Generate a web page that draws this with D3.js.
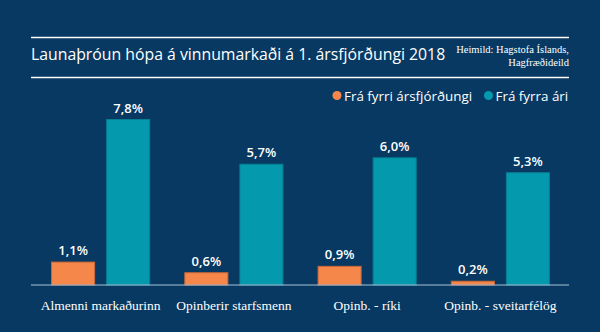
<!DOCTYPE html>
<html>
<head>
<meta charset="utf-8">
<script src="https://cdn.jsdelivr.net/npm/d3@7"></script>
<style>
  body { margin: 0; background: #073962; }
  svg { display: block; }
</style>
</head>
<body>
<div id="chart"></div>
<script>
// launaþróun eftir hópum, breyting í %
var categories = ["Almenni markaðurinn", "Opinberir starfsmenn", "Opinb. - ríki", "Opinb. - sveitarfélög"];
var series = ["Frá fyrri ársfjórðungi", "Frá fyrra ári"];
var fraFyrriArsfj = [1.1, 0.6, 0.9, 0.2];
var fraFyrraAri = [7.8, 5.7, 6.0, 5.3];
var colors = ["#f5874a", "#0499ad"];
var strokes = ["#c9683a", "#067f92"];

var width = 600, height = 332;

var svg = d3.select("#chart")
    .append("svg")
    .attr("width", width)
    .attr("height", height)
    .style("background", "#073962");

// top and bottom rules round the title
svg.selectAll("line.rule")
    .data([37.5, 77.5])
    .enter()
    .append("line")
    .attr("class", "rule")
    .attr("x1", 31).attr("x2", 569)
    .attr("y1", function (d) { return d; })
    .attr("y2", function (d) { return d; })
    .style("stroke", "#ffffff")
    .style("stroke-width", 1.5);

svg.append("text")
    .attr("x", 31)
    .attr("y", 60)
    .style("font-family", "'Open Sans', sans-serif")
    .style("font-size", "15.8px")
    .style("fill", "#ffffff")
    .text("Launaþróun hópa á vinnumarkaði á 1. ársfjórðungi 2018");

var source = svg.append("text")
    .attr("text-anchor", "end")
    .style("font-family", "'Liberation Serif', serif")
    .style("font-size", "10.5px")
    .style("fill", "#ffffff");
source.append("tspan").attr("x", 569).attr("y", 53).text("Heimild: Hagstofa Íslands,");
source.append("tspan").attr("x", 569).attr("y", 65.5).text("Hagfræðideild");

// legend
var legend = svg.append("g")
    .style("font-family", "'Open Sans', sans-serif")
    .style("font-size", "13.4px")
    .style("fill", "#ffffff");
var legendX = [337, 488.5];
series.forEach(function (s, i) {
    legend.append("circle")
        .attr("cx", legendX[i]).attr("cy", 95.5).attr("r", 4.5)
        .style("fill", colors[i]);
    legend.append("text")
        .attr("x", legendX[i] + 7)
        .attr("y", 100.5)
        .text(s);
});

var x = d3.scaleBand()
    .domain(categories)
    .range([34, 567]);

var x1 = d3.scaleBand()
    .domain([0, 1])
    .range([0, x.bandwidth()])
    .paddingInner(0.2)
    .paddingOuter(0.31);

var y = d3.scaleLinear()
    .domain([0, 7.8])
    .range([285, 119]);

var fmt = function (v) { return d3.format(".1f")(v).replace(".", ",") + "%"; };

var rows = [];
categories.forEach(function (c, i) {
    rows.push({ cat: c, s: 0, v: fraFyrriArsfj[i] });
    rows.push({ cat: c, s: 1, v: fraFyrraAri[i] });
});

var g = svg.append("g");

g.selectAll("rect")
    .data(rows)
    .enter()
    .append("rect")
    .attr("x", function (d) { return x(d.cat) + x1(d.s) + 0.5; })
    .attr("y", function (d) { return y(d.v) + 0.5; })
    .attr("width", x1.bandwidth() - 1)
    .attr("height", function (d) { return y(0) - y(d.v) - 0.5; })
    .style("fill", function (d) { return colors[d.s]; })
    .style("stroke", function (d) { return strokes[d.s]; })
    .style("stroke-width", 1);

g.selectAll("text.val")
    .data(rows)
    .enter()
    .append("text")
    .attr("class", "val")
    .attr("x", function (d) { return x(d.cat) + x1(d.s) + x1.bandwidth() / 2; })
    .attr("y", function (d) { return y(d.v) - 6.5; })
    .attr("text-anchor", "middle")
    .style("font-family", "'Open Sans', sans-serif")
    .style("font-size", "13px")
    .style("font-weight", "600")
    .style("fill", "#ffffff")
    .text(function (d) { return fmt(d.v); });

// x axis
var axis = svg.append("g")
    .attr("transform", "translate(0," + y(0) + ")")
    .call(d3.axisBottom(x).tickSize(0).tickPadding(15));
axis.select(".domain").remove();
axis.append("line")
    .attr("x1", 31).attr("x2", 569)
    .style("stroke", "#a9c3d9")
    .style("stroke-width", 1);
axis.selectAll(".tick text")
    .style("font-family", "'Liberation Serif', serif")
    .style("font-size", "13.5px")
    .style("fill", "#ffffff");
</script>
</body>
</html>
